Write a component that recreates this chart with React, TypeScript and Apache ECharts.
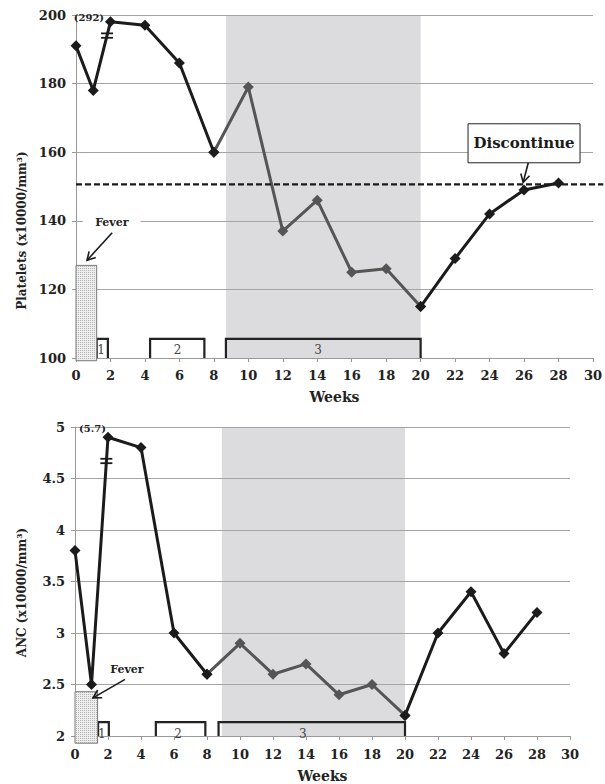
import React, { useEffect, useRef } from "react";
import * as echarts from "echarts";

// ---------- data ----------
const weeks = [0, 1, 2, 4, 6, 8, 10, 12, 14, 16, 18, 20, 22, 24, 26, 28];
const platelets = [191, 178, 198, 197, 186, 160, 179, 137, 146, 125, 126, 115, 129, 142, 149, 151];
const anc = [3.8, 2.5, 4.9, 4.8, 3.0, 2.6, 2.9, 2.6, 2.7, 2.4, 2.5, 2.2, 3.0, 3.4, 2.8, 3.2];
// treatment-period segment boundaries (indices into weeks)
const segStart = 5; // week 8
const segEnd = 11; // week 20
const plateletsYTicks = [100, 120, 140, 160, 180, 200];
const ancYTicks = [2, 2.5, 3, 3.5, 4, 4.5, 5];
const weekTicks = [0, 2, 4, 6, 8, 10, 12, 14, 16, 18, 20, 22, 24, 26, 28, 30];
const plateletsThreshold = 150.6;
const plateletsBreakLabel = "(292)";
const ancBreakLabel = "(5.7)";
const courseLabels = ["1", "2", "3"];

const FONT = '"DejaVu Serif", serif';
const BLACK = "#1b1b1b";
const GRAY = "#555555";
const SHADE = "#dcdcde";

function seg(vals: number[], a: number, b: number) {
  const out: number[][] = [];
  for (let i = a; i <= b; i++) out.push([weeks[i], vals[i]]);
  return out;
}

function makeDots() {
  const cv = document.createElement("canvas");
  cv.width = 2;
  cv.height = 2;
  const ctx = cv.getContext("2d")!;
  ctx.fillStyle = "#eeeeee";
  ctx.fillRect(0, 0, 2, 2);
  ctx.fillStyle = "#b4b4b4";
  ctx.fillRect(0, 0, 1, 1);
  return cv;
}

function arrow(p0: number[], p1: number[]) {
  const dx = p1[0] - p0[0];
  const dy = p1[1] - p0[1];
  const len = Math.hypot(dx, dy);
  const ux = dx / len;
  const uy = dy / len;
  const h = 8;
  const w = 4.5;
  const bx = p1[0] - ux * h;
  const by = p1[1] - uy * h;
  return [
    { type: "line", shape: { x1: p0[0], y1: p0[1], x2: p1[0], y2: p1[1] }, style: { stroke: BLACK, lineWidth: 1.6 } },
    {
      type: "polyline",
      shape: { points: [[bx - uy * w, by + ux * w], p1, [bx + uy * w, by - ux * w]] },
      style: { stroke: BLACK, lineWidth: 1.6, fill: "none" },
    },
  ];
}

function txt(p: number[], text: string, font: string, fill: string, bg?: string, padding?: number[]) {
  const s: any = {
    text,
    x: p[0],
    y: p[1],
    font,
    fill,
    align: "center",
    verticalAlign: "middle",
    textAlign: "center",
    textVerticalAlign: "middle",
  };
  if (bg) {
    s.backgroundColor = bg;
    s.padding = padding || [2, 3];
  }
  return { type: "text", style: s };
}

type Ann = {
  fever: number[]; // x0, x1, y0, y1
  brackets: number[][]; // x0, x1
  base: number;
  top: number;
  labelY: number;
  labelX: number[];
  breakAt: number[];
  breakLabel: number[];
  breakText: string;
  feverText: number[];
  feverArrow: number[][];
  feverPad: number[];
};

function foreground(a: Ann, dots: any, top: boolean) {
  return (params: any, api: any) => {
    const c = (x: number, y: number) => api.coord([x, y]);
    const ch: any[] = [];
    // brackets
    a.brackets.forEach((b, i) => {
      const p0 = c(b[0], a.base);
      const p1 = c(b[0], a.top);
      const p2 = c(b[1], a.top);
      const p3 = c(b[1], a.base);
      ch.push({
        type: "polyline",
        shape: { points: [p0, p1, p2, p3] },
        style: { stroke: "#222", lineWidth: 2.2, fill: "none" },
      });
      ch.push(txt(c(a.labelX[i], a.labelY), courseLabels[i], '12px "DejaVu Serif", serif', "#444"));
    });
    // fever box
    const f0 = c(a.fever[0], a.fever[3]);
    const f1 = c(a.fever[1], a.fever[2]);
    ch.push({
      type: "rect",
      shape: { x: f0[0], y: f0[1], width: f1[0] - f0[0], height: f1[1] - f0[1] },
      style: { fill: { image: dots, repeat: "repeat" }, stroke: "#7a7a7a", lineWidth: 1 },
    });
    // break marks
    const bp = c(a.breakAt[0], a.breakAt[1]);
    [-2.2, 2.2].forEach((d) => {
      ch.push({
        type: "line",
        shape: { x1: bp[0] - 6, y1: bp[1] + d, x2: bp[0] + 6, y2: bp[1] + d },
        style: { stroke: BLACK, lineWidth: 1.8 },
      });
    });
    ch.push(txt(c(a.breakLabel[0], a.breakLabel[1]), a.breakText, 'bold 10px "DejaVu Serif", serif', "#222"));
    // fever text + arrow
    ch.push(...arrow(c(a.feverArrow[0][0], a.feverArrow[0][1]), c(a.feverArrow[1][0], a.feverArrow[1][1])));
    ch.push(txt(c(a.feverText[0], a.feverText[1]), "Fever", 'bold 11px "DejaVu Serif", serif', "#222", "#ffffff", a.feverPad));
    if (top) {
      // threshold dashed line
      const d0 = c(0, plateletsThreshold);
      const d1 = c(30.6, plateletsThreshold);
      ch.push({
        type: "line",
        shape: { x1: d0[0], y1: d0[1], x2: d1[0], y2: d1[1] },
        style: { stroke: BLACK, lineWidth: 2.2, lineDash: [6, 3] },
      });
      // discontinue arrow + box
      ch.push(...arrow(c(26.25, 157), c(25.95, 151.2)));
      const bc = c(26.0, 162.6);
      ch.push({
        type: "rect",
        shape: { x: bc[0] - 56, y: bc[1] - 19.5, width: 112, height: 39 },
        style: { fill: "#ffffff", stroke: "#222", lineWidth: 1 },
      });
      ch.push(txt(bc, "Discontinue", 'bold 15px "DejaVu Serif", serif', "#1b1b1b"));
    }
    return { type: "group", children: ch };
  };
}

function background(x0: number, x1: number) {
  return (params: any, api: any) => {
    const cs = params.coordSys;
    const p0 = api.coord([x0, 0])[0];
    const p1 = api.coord([x1, 0])[0];
    return {
      type: "rect",
      shape: { x: p0, y: cs.y, width: p1 - p0, height: cs.height },
      style: { fill: SHADE },
    };
  };
}

const topAnn: Ann = {
  fever: [0, 1.2, 99.2, 127],
  brackets: [
    [1.2, 1.85],
    [4.3, 7.45],
    [8.7, 20],
  ],
  base: 100,
  top: 105.6,
  labelY: 102.2,
  labelX: [1.45, 5.9, 14.05],
  breakAt: [1.8, 194],
  breakLabel: [0.75, 199.4],
  breakText: plateletsBreakLabel,
  feverText: [2.08, 139.4],
  feverArrow: [
    [2.1, 136.5],
    [0.64, 128.5],
  ],
  feverPad: [3, 12],
};

const botAnn: Ann = {
  fever: [0, 1.37, 1.93, 2.43],
  brackets: [
    [1.4, 2.05],
    [4.9, 7.9],
    [8.7, 20],
  ],
  base: 2,
  top: 2.135,
  labelY: 2.02,
  labelX: [1.62, 6.25, 13.8],
  breakAt: [1.9, 4.67],
  breakLabel: [1.06, 4.99],
  breakText: ancBreakLabel,
  feverText: [3.15, 2.65],
  feverArrow: [
    [3.03, 2.55],
    [1.09, 2.37],
  ],
  feverPad: [2, 4],
};

function xAxis(gridIndex: number, gap: number, margin: number) {
  return {
    gridIndex,
    type: "value",
    min: weekTicks[0],
    max: weekTicks[weekTicks.length - 1],
    interval: weekTicks[1] - weekTicks[0],
    name: "Weeks",
    nameLocation: "middle",
    nameGap: gap,
    nameTextStyle: { fontFamily: FONT, fontWeight: "bold", fontSize: 14, color: "#222" },
    axisLine: { show: true, onZero: false, lineStyle: { color: "#999", width: 1 } },
    axisTick: { show: true, length: 4, lineStyle: { color: "#999" } },
    axisLabel: { fontFamily: FONT, fontWeight: "bold", fontSize: 13, color: "#222", margin },
    splitLine: { show: false },
  };
}

function yAxis(gridIndex: number, ticks: number[], name: string, pad: number) {
  return {
    gridIndex,
    type: "value",
    min: ticks[0],
    max: ticks[ticks.length - 1],
    interval: ticks[1] - ticks[0],
    name,
    nameLocation: "middle",
    nameRotate: 90,
    nameGap: 47,
    nameTextStyle: { fontFamily: FONT, fontWeight: "bold", fontSize: 12, color: "#222", padding: [0, pad, 0, 0] },
    axisLine: { show: true, onZero: false, lineStyle: { color: "#999", width: 1 } },
    axisTick: { show: true, length: 4, lineStyle: { color: "#999" } },
    axisLabel: { fontFamily: FONT, fontWeight: "bold", fontSize: 13, color: "#222", margin: 10 },
    splitLine: { show: true, lineStyle: { color: "#a4a4a4", width: 1 } },
  };
}

function lineSeries(xi: number, data: number[][], color: string, z: number) {
  return {
    type: "line",
    xAxisIndex: xi,
    yAxisIndex: xi,
    data,
    z,
    symbol: "diamond",
    symbolSize: 11,
    lineStyle: { color, width: 3 },
    itemStyle: { color },
    emphasis: { disabled: true },
  };
}

export default function App() {
  const ref = useRef<HTMLDivElement>(null);
  useEffect(() => {
    if (!ref.current) return;
    const chart = echarts.init(ref.current, null, { renderer: "svg" });
    const dots = makeDots();
    chart.setOption({
      animation: false,
      backgroundColor: "#ffffff",
      grid: [
        { left: 76, right: 10, top: 15, height: 343 },
        { left: 75, right: 35, top: 427, height: 310 },
      ],
      xAxis: [xAxis(0, 32, 11), xAxis(1, 33, 12)],
      yAxis: [
        yAxis(0, plateletsYTicks, "Platelets (x10000/mm³)", 88),
        yAxis(1, ancYTicks, "ANC (x10000/mm³)", 22),
      ],
      series: [
        { type: "custom", xAxisIndex: 0, yAxisIndex: 0, data: [[0, 150]], z: -1, silent: true, renderItem: background(8.7, 20) },
        { type: "custom", xAxisIndex: 1, yAxisIndex: 1, data: [[0, 3]], z: -1, silent: true, renderItem: background(8.9, 20) },
        lineSeries(0, seg(platelets, segStart, segEnd), GRAY, 2),
        lineSeries(0, seg(platelets, 0, segStart), BLACK, 3),
        lineSeries(0, seg(platelets, segEnd, weeks.length - 1), BLACK, 3),
        lineSeries(1, seg(anc, segStart, segEnd), GRAY, 2),
        lineSeries(1, seg(anc, 0, segStart), BLACK, 3),
        lineSeries(1, seg(anc, segEnd, weeks.length - 1), BLACK, 3),
        { type: "custom", xAxisIndex: 0, yAxisIndex: 0, data: [[0, 150]], z: 5, clip: false, silent: true, renderItem: foreground(topAnn, dots, true) },
        { type: "custom", xAxisIndex: 1, yAxisIndex: 1, data: [[0, 3]], z: 5, clip: false, silent: true, renderItem: foreground(botAnn, dots, false) },
      ],
    });
    return () => chart.dispose();
  }, []);
  return <div ref={ref} style={{ position: "fixed", left: 0, top: 0, width: 605, height: 784 }} />;
}
